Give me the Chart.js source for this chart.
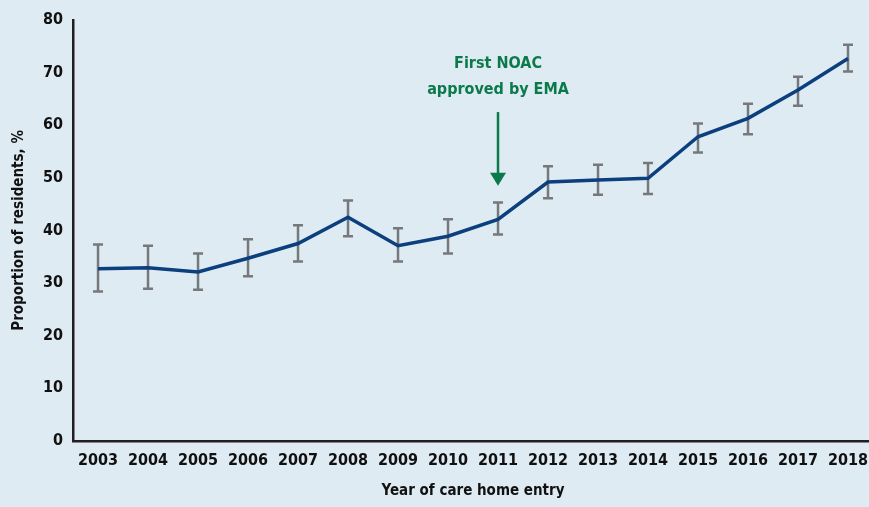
<!DOCTYPE html>
<html>
<head>
<meta charset="utf-8">
<script src="https://cdn.jsdelivr.net/npm/chart.js@4/dist/chart.umd.min.js"></script>
<style>
  html, body { margin: 0; padding: 0; background: #deebf3; overflow: hidden; }
  #wrap { width: 880px; height: 507px; }
</style>
</head>
<body>
<div id="wrap"><canvas id="chart-0"></canvas></div>
<script>
  var years = ['2003', '2004', '2005', '2006', '2007', '2008', '2009', '2010',
    '2011', '2012', '2013', '2014', '2015', '2016', '2017', '2018'];
  var proportion = [32.7, 32.9, 32.1, 34.7, 37.5, 42.5, 37.1, 38.9,
    42.1, 49.2, 49.6, 49.9, 57.8, 61.3, 66.7, 72.7];
  var upper = [37.3, 37.1, 35.6, 38.3, 41.0, 45.7, 40.4, 42.1,
    45.3, 52.2, 52.5, 52.8, 60.3, 64.1, 69.2, 75.3];
  var lower = [28.4, 28.9, 28.7, 31.3, 34.1, 38.9, 34.1, 35.6,
    39.2, 46.1, 46.8, 46.9, 54.8, 58.3, 63.7, 70.2];
  var yTicks = [0, 10, 20, 30, 40, 50, 60, 70, 80];
  var noteYear = '2011';
  var noteLines = ['First NOAC', 'approved by EMA'];
  var arrowFrom = 62.5, arrowTo = 48.5;

  var font = "'Liberation Sans Narrow', 'DejaVu Sans Condensed', 'Roboto', sans-serif";
  var green = '#0b7a4b';

  // error bars drawn under the line
  var errorBars = {
    id: 'errorBars',
    beforeDatasetsDraw: function(chart) {
      var ctx = chart.ctx, x = chart.scales.x, y = chart.scales.y;
      ctx.save();
      ctx.strokeStyle = '#77787b';
      ctx.lineWidth = 2.5;
      years.forEach(function(yr, i) {
        var px = x.getPixelForValue(i);
        var top = y.getPixelForValue(upper[i]);
        var bot = y.getPixelForValue(lower[i]);
        ctx.beginPath();
        ctx.moveTo(px, top); ctx.lineTo(px, bot);
        ctx.moveTo(px - 5, top); ctx.lineTo(px + 5, top);
        ctx.moveTo(px - 5, bot); ctx.lineTo(px + 5, bot);
        ctx.stroke();
      });
      ctx.restore();
    }
  };

  // arrow + note for the EMA approval
  var note = {
    id: 'note',
    afterDraw: function(chart) {
      var ctx = chart.ctx, x = chart.scales.x, y = chart.scales.y;
      var px = x.getPixelForValue(years.indexOf(noteYear));
      var y0 = y.getPixelForValue(arrowFrom);
      var y1 = y.getPixelForValue(arrowTo);
      ctx.save();
      ctx.strokeStyle = green;
      ctx.fillStyle = green;
      ctx.lineWidth = 2.5;
      ctx.beginPath();
      ctx.moveTo(px, y0); ctx.lineTo(px, y1 - 12);
      ctx.stroke();
      ctx.beginPath();
      ctx.moveTo(px - 8, y1 - 13); ctx.lineTo(px + 8, y1 - 13); ctx.lineTo(px, y1);
      ctx.closePath();
      ctx.fill();
      ctx.font = 'bold 16px ' + font;
      ctx.textAlign = 'center';
      ctx.textBaseline = 'middle';
      ctx.fillText(noteLines[0], px, y0 - 48);
      ctx.fillText(noteLines[1], px, y0 - 22);
      ctx.restore();
    }
  };

  var chart = new Chart('chart-0', {
    type: 'line',
    data: {
      labels: years,
      datasets: [{
        data: proportion,
        borderColor: '#0b3f7e',
        borderWidth: 3.5,
        pointRadius: 0,
        tension: 0,
        fill: false
      }]
    },
    options: {
      responsive: true,
      maintainAspectRatio: false,
      animation: false,
      layout: { padding: { top: 20, right: 7, left: 10, bottom: 3 } },
      plugins: { legend: { display: false }, tooltip: { enabled: false } },
      scales: {
        x: {
          offset: true,
          grid: { display: false, drawTicks: false },
          border: { display: true, color: '#231f20', width: 2.5 },
          ticks: { color: '#111', padding: 10, font: { family: font, size: 16, weight: 'bold' }, maxRotation: 0, autoSkip: false },
          title: { display: true, text: 'Year of care home entry', color: '#111', padding: { top: 2 }, font: { family: font, size: 15, weight: 'bold' } }
        },
        y: {
          min: 0,
          max: 80,
          afterBuildTicks: function(axis) {
            axis.ticks = yTicks.map(function(v) { return { value: v }; });
          },
          grid: { display: false, drawTicks: false },
          border: { display: true, color: '#231f20', width: 2.5 },
          ticks: { color: '#111', padding: 10, font: { family: font, size: 16, weight: 'bold' } },
          title: { display: true, text: 'Proportion of residents, %', color: '#111', padding: { top: 0, bottom: 5 }, font: { family: font, size: 15, weight: 'bold' } }
        }
      }
    },
    plugins: [errorBars, note]
  });
</script>
</body>
</html>
